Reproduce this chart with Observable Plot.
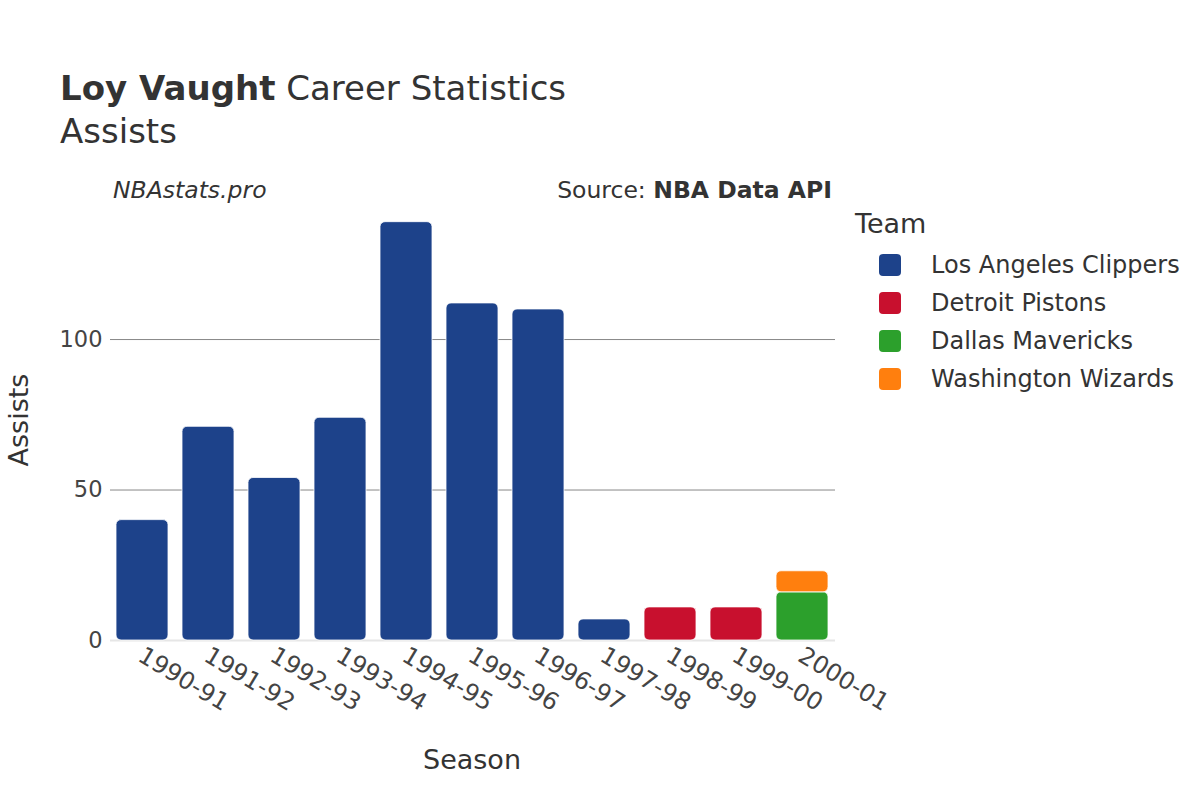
<!DOCTYPE html>
<html>
<head>
<meta charset="utf-8">
<script src="https://cdn.jsdelivr.net/npm/d3@7"></script>
<script src="https://cdn.jsdelivr.net/npm/@observablehq/plot@0.6"></script>
<style>
  html, body { margin: 0; padding: 0; background: #fff; }
  #wrap { position: relative; width: 1200px; height: 800px; font-family: "DejaVu Sans", sans-serif; color: #333; }
  .abs { position: absolute; white-space: nowrap; }
  #chart { position: absolute; left: 0; top: 0; }
</style>
</head>
<body>
<div id="wrap">
  <div id="chart"></div>
  <div class="abs" style="left:60px; top:68px; font-size:34px; color:#333;"><b>Loy Vaught</b> Career Statistics</div>
  <div class="abs" style="left:60px; top:111px; font-size:34px; color:#333;">Assists</div>
  <div class="abs" style="left:113px; top:176px; font-size:23.5px; font-style:italic; color:#333;">NBAstats.pro</div>
  <div class="abs" style="right:368px; top:176px; font-size:23.5px; color:#333;">Source: <b>NBA Data API</b></div>
  <div class="abs" style="left:472px; top:744px; font-size:27px; color:#333; transform:translateX(-50%);">Season</div>
  <div class="abs" style="left:18px; top:420px; font-size:27px; color:#333; transform:translate(-50%,-50%) rotate(-90deg);">Assists</div>
  <div id="legend" class="abs" style="left:855px; top:208px;"></div>
</div>
<script>
const seasons = ["1990-91","1991-92","1992-93","1993-94","1994-95","1995-96","1996-97","1997-98","1998-99","1999-00","2000-01"];
const rowSeason = ["1990-91","1991-92","1992-93","1993-94","1994-95","1995-96","1996-97","1997-98","1998-99","1999-00","2000-01","2000-01"];
const rowTeam = ["Los Angeles Clippers","Los Angeles Clippers","Los Angeles Clippers","Los Angeles Clippers","Los Angeles Clippers","Los Angeles Clippers","Los Angeles Clippers","Los Angeles Clippers","Detroit Pistons","Detroit Pistons","Dallas Mavericks","Washington Wizards"];
const rowAssists = [40, 71, 54, 74, 139, 112, 110, 7, 11, 11, 16, 7];
const teams = ["Los Angeles Clippers","Detroit Pistons","Dallas Mavericks","Washington Wizards"];
const teamColors = ["#1d428a","#c8102e","#2ca02c","#ff7f0e"];
const yTicks = [0, 50, 100];

const data = rowSeason.map((s, i) => ({season: s, team: rowTeam[i], assists: rowAssists[i]}));

const chart = Plot.plot({
  width: 1200,
  height: 800,
  marginLeft: 110,
  marginRight: 365,
  marginTop: 200,
  marginBottom: 160,
  style: {fontFamily: "DejaVu Sans, sans-serif", fontSize: "22px", color: "#444", background: "transparent"},
  x: {domain: seasons, paddingInner: 0.21, paddingOuter: 0.05, label: null},
  y: {domain: [0, 146.2], ticks: yTicks, label: null},
  color: {domain: teams, range: teamColors},
  marks: [
    Plot.gridY(yTicks, {stroke: "#888", strokeOpacity: 1, strokeWidth: 1}),
    Plot.ruleY([0], {stroke: "#e6e6e6", strokeWidth: 2}),
    Plot.barY(data, {x: "season", y: "assists", fill: "team", rx: 5, stroke: "white", strokeWidth: 0.8}),
    Plot.axisY(yTicks, {tickSize: 0, tickPadding: 8, fontSize: 22.5, fill: "#444", label: null}),
    Plot.axisX({tickSize: 0, tickPadding: 13, tickRotate: 31, textAnchor: "start", fontSize: 24, fill: "#444", label: null, dx: -2})
  ]
});
document.getElementById("chart").appendChild(chart);

const legend = document.getElementById("legend");
let html = '<div style="font-size:27px;color:#333;margin-bottom:7px;">Team</div>';
teams.forEach((t, i) => {
  html += `<div style="display:flex;align-items:center;height:38px;font-size:24px;color:#333;">
    <span style="display:inline-block;width:22px;height:22px;border-radius:4px;background:${teamColors[i]};margin-left:24px;margin-right:30px;"></span>${t}</div>`;
});
legend.innerHTML = html;
</script>
</body>
</html>
